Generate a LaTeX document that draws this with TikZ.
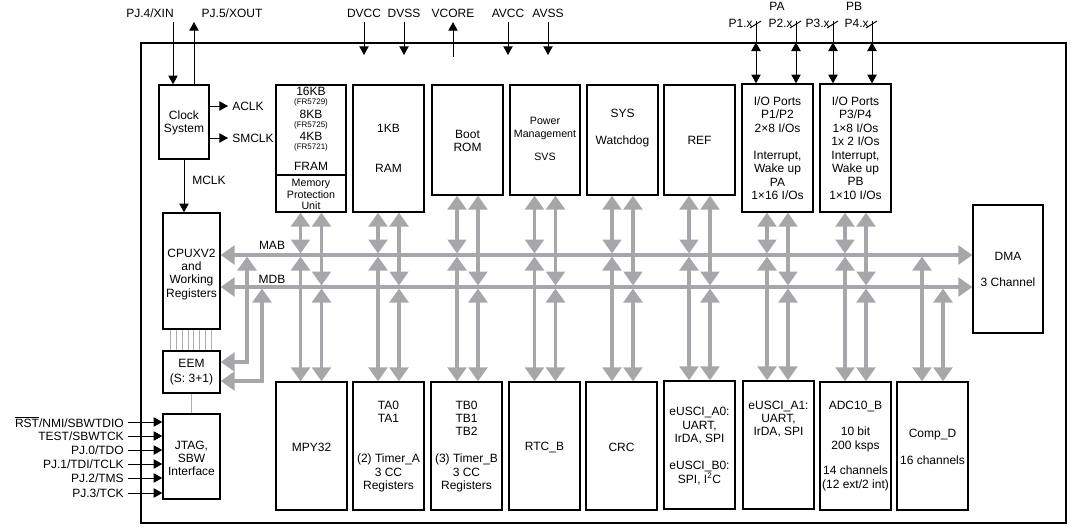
\documentclass[tikz,border=0pt]{standalone}
\usepackage{fontspec}
\setmainfont{Liberation Sans}
\usetikzlibrary{arrows.meta,calc,fit}

\definecolor{busgray}{RGB}{166,167,170}
\definecolor{wiregray}{RGB}{175,175,175}

\tikzset{
  blk/.style={draw, line width=1pt, inner sep=0pt},
  txt/.style={inner sep=0pt, align=center, font=\fontsize{9}{10.05}\selectfont},
  tinytxt/.style={inner sep=0pt, font=\fontsize{6}{7}\selectfont},
  sig/.style={line width=0.7pt, -{Triangle[length=6.5pt,width=7pt]}},
  dsig/.style={line width=0.7pt, {Triangle[length=6.5pt,width=7pt]}-{Triangle[length=6.5pt,width=7pt]}},
  bus/.style={draw=busgray, line width=2.7pt, {Triangle[length=10.5pt,width=14pt]}-{Triangle[length=10.5pt,width=14pt]}},
  wire/.style={draw=wiregray, line width=0.5pt},
}

\begin{document}
\begin{tikzpicture}[x=0.75pt,y=0.75pt,yscale=-1,xscale=1]
	\useasboundingbox (0,0) rectangle (1082,532);

	% chip outline
	\node[blk, fit={(141,43)(1066,523)}] (chip) {};

	% Clock System
	\node[blk, fit={(159,85)(209,159)}] (clk) {};
	\node[txt, anchor=north] (clk-t) at (184,110.5) {Clock\\System};
	\node[txt, anchor=east] (xin-l) at (174,13) {PJ.4/XIN};
	\node[txt] (xout-l) at (232,13) {PJ.5/XOUT};
	\coordinate (xin) at (173,22);
	\coordinate (xout) at (194,22);
	\draw[sig] (xin) -- (xin |- clk.north);
	\draw[sig] (xout |- clk.north) -- (xout);
	\node[txt, anchor=west] (aclk) at (232,106) {ACLK};
	\node[txt, anchor=west] (smclk) at (232,138) {SMCLK};
	\draw[sig] (aclk -| clk.east) -- ([xshift=-3pt]aclk.west);
	\draw[sig] (smclk -| clk.east) -- ([xshift=-3pt]smclk.west);

	% supply pins
	\foreach \n/\x/\lab in {dvcc/364/DVCC, dvss/404/DVSS, avcc/508/AVCC, avss/548/AVSS} {
		\node[txt] (\n) at (\x,13) {\lab};
		\draw[sig, shorten <=3.4pt] (\n.south) -- (\n |- 0,55);
	}
	\node[txt] (vcore) at (453,13) {VCORE};
	\draw[sig, shorten >=3.4pt] (vcore |- 0,57) -- (vcore.south);

	% top blocks
	\node[blk, fit={(276,85)(346,175)}] (fram) {};
	\node[blk, fit={(276,175)(346,212)}] (mpu) {};
	\node[blk, fit={(353,85)(424,212)}] (ram) {};
	\node[blk, fit={(432,85)(503,195)}] (rom) {};
	\node[blk, fit={(510,85)(580,195)}] (pmm) {};
	\node[blk, fit={(587,85)(658,195)}] (sys) {};
	\node[blk, fit={(664,85)(735,195)}] (ref) {};
	\node[blk, fit={(742,84)(813,212)}] (pa) {};
	\node[blk, fit={(820,84)(891,212)}] (pb) {};

	\node[txt] (fram-a) at (311,91) {16KB};
	\node[tinytxt] (fram-b) at (311,102) {(FR5729)};
	\node[txt] (fram-c) at (311,114) {8KB};
	\node[tinytxt] (fram-d) at (311,125) {(FR5725)};
	\node[txt] (fram-e) at (311,136) {4KB};
	\node[tinytxt] (fram-f) at (311,147) {(FR5721)};
	\node[txt] (fram-g) at (311,166) {FRAM};
	\node[txt, font=\fontsize{8}{8.7}\selectfont] (mpu-t) at (311,194.5) {Memory\\Protection\\Unit};
	\node[txt, anchor=north] (ram-t) at (388.5,123.5) {1KB\\[20pt]RAM};
	\node[txt, anchor=north] (rom-t) at (467.5,129.5) {Boot\\ROM};
	\node[txt, anchor=north, font=\fontsize{8}{9.75}\selectfont] (pmm-t) at (545,117) {Power\\Management\\[7.5pt]SVS};
	\node[txt, anchor=north] (sys-t) at (622.5,108.5) {SYS\\[10.25pt]Watchdog};
	\node[txt, anchor=north] (ref-t) at (699.5,135.5) {REF};
	\node[txt, anchor=north] (pa-t) at (777.5,96.5) {I/O Ports\\P1/P2\\2×8 I/Os\\[10.2pt]Interrupt,\\Wake up\\PA\\1×16 I/Os};
	\node[txt, anchor=north] (pb-t) at (855.5,96.5) {I/O Ports\\P3/P4\\1×8 I/Os\\1x 2 I/Os\\Interrupt,\\Wake up\\PB\\1×10 I/Os};

	% ports
	\node[txt] (pa-l) at (777,6) {PA};
	\node[txt] (pb-l) at (854,6) {PB};
	\foreach \n/\x/\b in {1/756/pa, 2/796/pa, 3/833/pb, 4/872/pb} {
		\node[txt, anchor=east] (p\n-l) at (\x-3,23) {P\n.x};
		\coordinate (p\n) at (\x,21);
		\draw[line width=0.7pt] (p\n) -- (p\n |- chip.north);
		\draw[line width=0.7pt] ($(p\n)+(-6,7)$) -- ($(p\n)+(5,0)$);
		\draw[dsig] (p\n |- chip.north) -- (p\n |- \b.north);
	}

	% CPU, EEM, JTAG
	\node[blk, fit={(163,213)(220,329)}] (cpu) {};
	\node[blk, fit={(163,351)(220,393)}] (eem) {};
	\node[blk, fit={(163,414)(220,499)}] (jtag) {};
	\node[txt, anchor=north] (cpu-t) at (191.5,248.5) {CPUXV2\\and\\Working\\Registers};
	\node[txt, anchor=north] (eem-t) at (191.5,358.5) {EEM\\[1.2pt](S: 3+1)};
	\node[txt, anchor=north] (jtag-t) at (191.5,440.5) {JTAG,\\SBW\\Interface};
	\draw[sig] (clk.south) -- (clk.south |- cpu.north);
	\node[txt, anchor=west] (mclk) at (192,180) {MCLK};
	\foreach \i in {0,...,7} {
		\path ($(cpu.south west)+(8+5.86*\i,0)$) coordinate (w\i);
		\draw[wire] (w\i) -- (w\i |- eem.north);
	}
	\draw[wire] (eem.south) -- (jtag.north);
	\foreach \y/\lab [count=\i] in {422/{$\overline{\hbox{RST}}$/NMI/SBWTDIO}, 436/{TEST/SBWTCK}, 450/{PJ.0/TDO}, 464/{PJ.1/TDI/TCLK}, 478/{PJ.2/TMS}, 493/{PJ.3/TCK}} {
		\node[txt, anchor=east] (jp\i) at (124,\y) {\lab};
		\draw[sig, shorten <=3pt] (jp\i.east) -- (jp\i -| jtag.west);
	}

	% bottom blocks
	\node[blk, fit={(276,382)(347,510)}] (mpy) {};
	\node[blk, fit={(353,382)(424,510)}] (ta) {};
	\node[blk, fit={(431,382)(502,510)}] (tb) {};
	\node[blk, fit={(509,382)(580,510)}] (rtc) {};
	\node[blk, fit={(586,382)(657,510)}] (crc) {};
	\node[blk, fit={(664,381)(735,509)}] (usa) {};
	\node[blk, fit={(743,381)(814,509)}] (usb) {};
	\node[blk, fit={(820,382)(891,510)}] (adc) {};
	\node[blk, fit={(897,382)(968,510)}] (cmp) {};
	\node[blk, fit={(973,205)(1043,333)}] (dma) {};

	\node[txt, anchor=north] (mpy-t) at (311.5,442.5) {MPY32};
	\node[txt, anchor=north] (ta-t) at (388.5,400.5) {TA0\\TA1\\[20pt](2) Timer\_A\\3 CC\\Registers};
	\node[txt, anchor=north] (tb-t) at (466.5,400.5) {TB0\\TB1\\TB2\\[10pt](3) Timer\_B\\3 CC\\Registers};
	\node[txt, anchor=north] (rtc-t) at (544.5,441.5) {RTC\_B};
	\node[txt, anchor=north] (crc-t) at (621.5,442.5) {CRC};
	\node[txt, anchor=north] (usa-t) at (699.5,407) {eUSCI\_A0:\\UART,\\IrDA, SPI\\[10.5pt]eUSCI\_B0:\\SPI, I\textsuperscript{2}C};
	\node[txt, anchor=north] (usb-t) at (778.5,400.5) {eUSCI\_A1:\\UART,\\IrDA, SPI};
	\node[txt, anchor=north] (adc-t) at (855.5,401) {ADC10\_B\\[9.5pt]10 bit\\200 ksps\\[9.3pt]14 channels\\(12 ext/2 int)};
	\node[txt, anchor=north] (cmp-t) at (932.5,429) {Comp\_D\\[10.25pt]16 channels};
	\node[txt, anchor=north] (dma-t) at (1008,251.5) {DMA\\[10pt]3 Channel};

	% buses
	\coordinate (mab) at (0,255);
	\coordinate (mdb) at (0,287);
	\coordinate (mabT) at (0,253.5);
	\coordinate (mabB) at (0,256.5);
	\coordinate (mdbT) at (0,285.5);
	\coordinate (mdbB) at (0,288.5);
	\draw[bus] (cpu.east |- mab) -- (dma.west |- mab);
	\draw[bus] (cpu.east |- mdb) -- (dma.west |- mdb);
	\node[txt] (mab-l) at (272,245) {MAB};
	\node[txt] (mdb-l) at (272,279) {MDB};
	\foreach \t/\b in {mpu/mpy, ram/ta, rom/tb, pmm/rtc, sys/crc, ref/usa, pa/usb, pb/adc} {
		\path ($(\t.south)+(-10.5,0)$) coordinate (\t-a) ($(\t.south)+(10.5,0)$) coordinate (\t-d);
		\draw[bus] (\t-a) -- (\t-a |- mabT);
		\draw[bus] (\t-a |- mabB) -- (\t-a |- \b.north);
		\draw[bus] (\t-d) -- (\t-d |- mdbT);
		\draw[bus] (\t-d |- mdbB) -- (\t-d |- \b.north);
	}
	\path ($(cmp.north)+(-10.5,0)$) coordinate (cmp-a) ($(cmp.north)+(10.5,0)$) coordinate (cmp-d);
	\draw[bus] (cmp-a |- mabB) -- (cmp-a);
	\draw[bus] (cmp-d |- mdbB) -- (cmp-d);
	\coordinate (eq1) at (247,0);
	\coordinate (eq2) at (262,0);
	\draw[bus] (eq1 |- mabB) |- ($(eem.east)+(0,-10)$);
	\draw[bus] (eq2 |- mdbB) |- ($(eem.east)+(0,9)$);

\end{tikzpicture}
\end{document}
